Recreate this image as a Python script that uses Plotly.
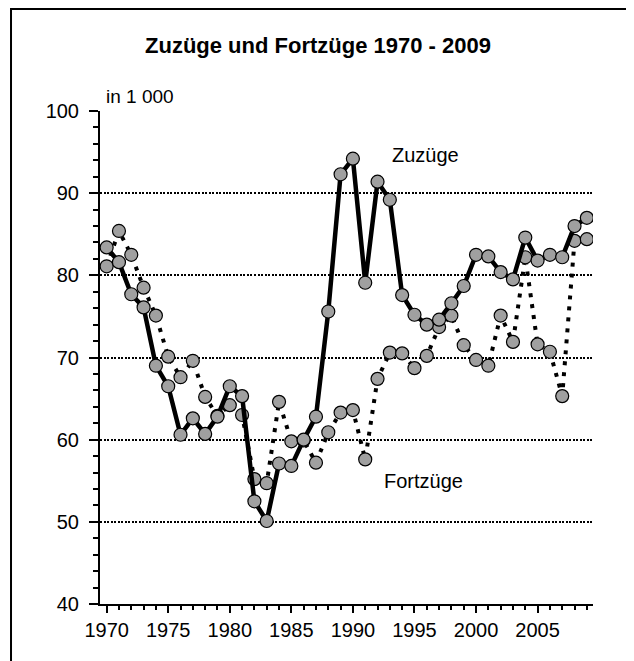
import plotly.graph_objects as go

years = list(range(1970, 2010))

zuzuege = [83.4, 81.6, 77.7, 76.1, 69.0, 66.5, 60.6, 62.6, 60.7, 62.8,
           66.5, 65.3, 52.5, 50.1, 57.1, 56.8, 60.0, 62.8, 75.6, 92.3,
           94.2, 79.1, 91.4, 89.2, 77.6, 75.2, 74.0, 74.6, 76.6, 78.7,
           82.5, 82.3, 80.4, 79.5, 84.6, 81.8, 82.5, 82.2, 86.0, 87.0]

fortzuege = [81.1, 85.4, 82.5, 78.5, 75.1, 70.1, 67.6, 69.6, 65.2, 62.9,
             64.2, 63.0, 55.2, 54.7, 64.6, 59.8, 59.9, 57.2, 60.9, 63.3,
             63.6, 57.6, 67.4, 70.6, 70.5, 68.7, 70.2, 73.7, 75.1, 71.5,
             69.7, 69.0, 75.1, 71.9, 82.2, 71.6, 70.7, 65.3, 84.2, 84.4]

x_tickvals = [1970, 1975, 1980, 1985, 1990, 1995, 2000, 2005]
y_tickvals = [40, 50, 60, 70, 80, 90, 100]

FONT = "Liberation Sans, Arial, sans-serif"
marker = dict(size=13, color="#a0a0a0", line=dict(color="black", width=1.2))

W, H = 626, 653

fig = go.Figure()
fig.add_trace(go.Scatter(x=years, y=fortzuege, mode="lines+markers", name="Fortzüge",
                         line=dict(color="black", width=4, dash="4px,7px"),
                         marker=marker))
fig.add_trace(go.Scatter(x=years, y=zuzuege, mode="lines+markers", name="Zuzüge",
                         line=dict(color="black", width=4.5),
                         marker=marker))

fig.update_layout(
    width=W, height=H,
    margin=dict(l=92, r=41, t=103, b=57),
    paper_bgcolor="white", plot_bgcolor="white",
    showlegend=False,
    font=dict(family=FONT, size=20, color="black"),
    title=dict(text="<b>Zuzüge und Fortzüge 1970 - 2009</b>",
               x=310 / W, xref="container", xanchor="center",
               y=1 - 37 / H, yref="container", yanchor="middle",
               font=dict(family=FONT, size=22, color="black")),
)
fig.update_xaxes(range=[1969.46, 2009.5], tickvals=x_tickvals,
                 ticks="outside", ticklen=7, tickwidth=2, tickcolor="black",
                 showline=True, linewidth=2, linecolor="black",
                 showgrid=False, zeroline=False,
                 minor=dict(dtick=1, tick0=1970, ticks="outside", ticklen=4,
                            tickwidth=2, tickcolor="black", showgrid=False),
                 tickfont=dict(family=FONT, size=20))
fig.update_yaxes(range=[40, 100], tickvals=y_tickvals,
                 ticks="outside", ticklen=9, tickwidth=2, tickcolor="black",
                 ticklabelstandoff=6,
                 showline=True, linewidth=2, linecolor="black",
                 showgrid=True, gridcolor="black", gridwidth=1.5, griddash="2px,1.5px",
                 zeroline=False,
                 minor=dict(dtick=2, tick0=40, ticks="outside", ticklen=5,
                            tickwidth=2, tickcolor="black", showgrid=False),
                 tickfont=dict(family=FONT, size=20))

fig.add_annotation(text="in 1 000", xref="paper", yref="paper", x=0.008, y=1.0,
                   xanchor="left", yanchor="bottom", yshift=2, showarrow=False,
                   font=dict(family=FONT, size=19))
fig.add_annotation(text="Zuzüge", x=1995.9, y=94.6, showarrow=False,
                   font=dict(family=FONT, size=20))
fig.add_annotation(text="Fortzüge", x=1995.7, y=55.0, showarrow=False,
                   font=dict(family=FONT, size=20))

fig.add_shape(type="rect", xref="paper", yref="paper",
              x0=-0.1805, x1=1.073, y0=-0.2, y1=1.207,
              line=dict(color="black", width=2), layer="below")

fig.write_html("out.html")
